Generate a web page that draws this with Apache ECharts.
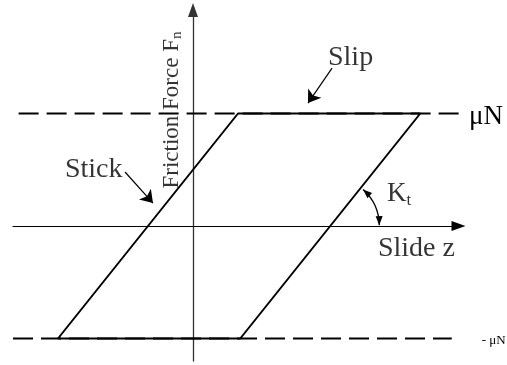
<!DOCTYPE html>
<html>
<head>
<meta charset="utf-8">
<script src="https://cdn.jsdelivr.net/npm/echarts@6/dist/echarts.min.js"></script>
<style>
html, body { margin: 0; padding: 0; background: #fff; }
#main { width: 507px; height: 365px; }
</style>
</head>
<body>
<div id="main"></div>
<script>
// 摩擦力-滑移 迟滞回线 (stick / slip)
// 纵轴: 摩擦力 (以 μN 为单位), 横轴: 滑移 z
var loopX = [-1.2, 0.4, 2.02, 0.42, -1.2];
var loopY = [-1, 1, 1, -1, -1];
// μN 与 -μN 虚线
var upperX = [-1.55, 2.4];
var upperY = [1, 1];
var lowerX = [-1.6, 2.3];
var lowerY = [-1, -1];
// 标注箭头 (起点 -> 终点)
var slipArrow = [[1.236, 1.404], [1.022, 1.093]];
var stickArrow = [[-0.604, 0.48], [-0.356, 0.204]];
// K_t 角度弧: 圆心x, 圆心y, 半径, 起止角度(度)
var ktArc = [1.22, 0, 0.436, -48, -1];
// 文字标注
var noteText = ['Slip', 'Stick', 'Slide z', '{m|K}{s|t}'];
var noteX = [1.2, -1.138, 1.644, 1.724];
var noteY = [1.5, 0.5, -0.2, 0.284];
var yTitle = '{ym|Friction Force F}{ys|n}';
var yTitlePos = [-0.187, 1.031];

var serif = 'Liberation Serif, Times New Roman, serif';

var chartDom = document.getElementById('main');
var myChart = echarts.init(chartDom);

function zip(xs, ys) {
    var out = [];
    for (var i = 0; i < xs.length; i++) out.push([xs[i], ys[i]]);
    return out;
}

var noteData = noteText.map(function (t, i) {
    return { value: [noteX[i], noteY[i]], label: { formatter: t } };
});
noteData.push({
    value: yTitlePos,
    label: { formatter: yTitle, rotate: 90, position: 'inside', align: 'center', verticalAlign: 'middle' }
});

function renderArc(params, api) {
    var c = api.coord([api.value(0), api.value(1)]);
    var r = api.coord([api.value(0) + api.value(2), api.value(1)])[0] - c[0];
    var a1 = api.value(3) * Math.PI / 180;
    var a2 = api.value(4) * Math.PI / 180;
    function head(a, dir) {
        var tx = c[0] + r * Math.cos(a), ty = c[1] + r * Math.sin(a);
        var dx = -Math.sin(a) * dir, dy = Math.cos(a) * dir;
        var L = 9, w = 3.5;
        var bx = tx - L * dx, by = ty - L * dy;
        return {
            type: 'polygon',
            shape: { points: [[tx, ty], [bx - w * dy, by + w * dx], [bx + w * dy, by - w * dx]] },
            style: { fill: '#000' }
        };
    }
    return {
        type: 'group',
        children: [
            {
                type: 'arc',
                shape: { cx: c[0], cy: c[1], r: r, startAngle: a1, endAngle: a2, clockwise: true },
                style: { stroke: '#000', lineWidth: 1.3, fill: null }
            },
            head(a2, 1),
            head(a1, -1)
        ]
    };
}

var option = {
    animation: false,
    grid: { left: 13, right: 48.5, top: 10, bottom: 4 },
    xAxis: {
        type: 'value',
        min: -1.6,
        max: 2.36,
        axisLine: {
            show: true,
            symbol: ['none', 'triangle'],
            symbolSize: [10, 14],
            lineStyle: { color: '#000', width: 1.2 }
        },
        axisTick: { show: false },
        axisLabel: { show: false },
        splitLine: { show: false }
    },
    yAxis: {
        type: 'value',
        min: -1.2,
        max: 1.92,
        axisLine: {
            show: true,
            symbol: ['none', 'triangle'],
            symbolSize: [10, 14],
            lineStyle: { color: '#333', width: 1.3 }
        },
        axisTick: { show: false },
        axisLabel: { show: false },
        splitLine: { show: false }
    },
    series: [
        {
            name: 'muN',
            type: 'line',
            data: zip(upperX, upperY),
            symbol: 'none',
            clip: false,
            lineStyle: { color: '#000', width: 2, type: [20, 8] },
            endLabel: {
                show: true, formatter: 'μN', distance: 9, offset: [0, 3],
                color: '#000', fontFamily: serif, fontSize: 27
            },
            z: 2
        },
        {
            name: '-muN',
            type: 'line',
            data: zip(lowerX, lowerY),
            symbol: 'none',
            clip: false,
            lineStyle: { color: '#000', width: 2, type: [20, 8] },
            endLabel: {
                show: true, formatter: '- μN', distance: 30, offset: [0, 2],
                color: '#000', fontFamily: serif, fontSize: 13
            },
            z: 2
        },
        {
            name: 'loop',
            type: 'line',
            data: zip(loopX, loopY),
            symbol: 'none',
            lineStyle: { color: '#000', width: 2 },
            z: 3
        },
        {
            name: 'arrows',
            type: 'lines',
            coordinateSystem: 'cartesian2d',
            data: [{ coords: slipArrow }, { coords: stickArrow }],
            symbol: ['none', 'arrow'],
            symbolSize: [8, 12],
            lineStyle: { color: '#000', width: 1.2, opacity: 1, curveness: 0 },
            silent: true,
            z: 4
        },
        {
            name: 'kt',
            type: 'custom',
            data: [ktArc],
            renderItem: renderArc,
            silent: true,
            z: 4
        },
        {
            name: 'notes',
            type: 'scatter',
            data: noteData,
            symbolSize: 0,
            silent: true,
            label: {
                show: true,
                position: 'right',
                distance: 0,
                color: '#000',
                fontFamily: serif,
                fontSize: 28,
                rich: {
                    m: { fontFamily: serif, fontSize: 27, lineHeight: 30, color: '#000' },
                    s: { fontFamily: serif, fontSize: 17, lineHeight: 14, verticalAlign: 'bottom', color: '#000' },
                    ym: { fontFamily: serif, fontSize: 23, lineHeight: 26, color: '#000' },
                    ys: { fontFamily: serif, fontSize: 15, lineHeight: 12, verticalAlign: 'bottom', color: '#000' }
                }
            },
            z: 5
        }
    ]
};
option && myChart.setOption(option);
</script>
</body>
</html>
